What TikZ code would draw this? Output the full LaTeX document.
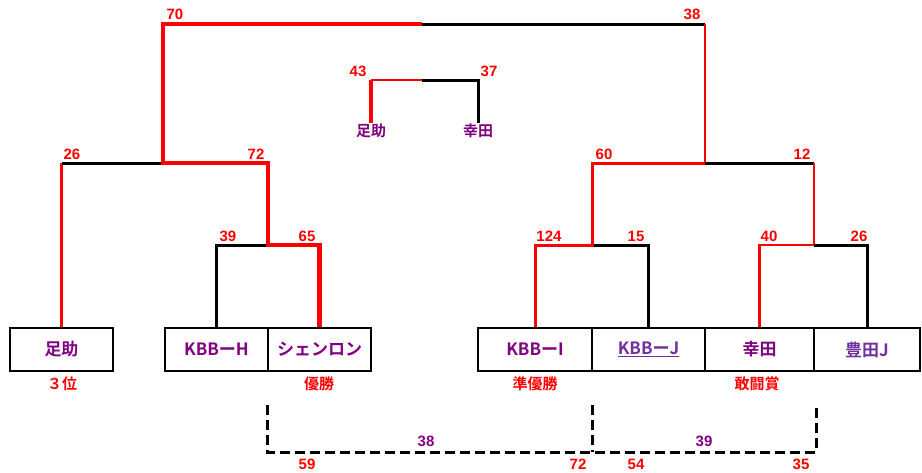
\documentclass[tikz,border=0pt]{standalone}
\usepackage{fontspec}
\setmainfont{Liberation Sans}
\newfontfamily\jp{Noto Sans CJK JP}[BoldFont={Noto Sans CJK JP Bold}]
\definecolor{tpurple}{HTML}{800080}
\definecolor{lpurple}{HTML}{7030A0}
\tikzset{
  team/.style={draw, line width=2pt, minimum height=43, inner sep=0pt, text=tpurple, font=\jp\bfseries\fontsize{17}{17}\selectfont},
  playoff/.style={text=tpurple, inner sep=1pt, font=\jp\bfseries\fontsize{15}{15}\selectfont},
  score/.style={text=red, font=\bfseries\fontsize{15}{15}\selectfont},
  prize/.style={text=red, font=\jp\bfseries\fontsize{15}{15}\selectfont},
  win/.style={red, line width=4.5pt},
  runner/.style={red, line width=3pt},
  adv/.style={red, line width=2.2pt},
  lose/.style={black, line width=3pt},
  pair/.style={black, line width=3pt, dash pattern=on 10pt off 5pt}
}
\begin{document}
\begin{tikzpicture}[x=1pt, y=-1pt]
    \useasboundingbox (0,0) rectangle (922,472);

    % Teams in boxes
    \node[team, minimum width=103] (ashi) at (61.5,349.5) {足助};
    \node[team, minimum width=103] (kbbh) at (216.5,349.5) {KBBーH};
    \node[team, minimum width=103] (shen) at (319.5,349.5) {シェンロン};
    \node[team, minimum width=114] (kbbi) at (535,349.5) {KBBーI};
    \node[team, minimum width=113, text=lpurple] (kbbj) at (648.5,349.5) {\underline{KBBーJ}};
    \node[team, minimum width=109] (koda) at (759.5,349.5) {幸田};
    \node[team, minimum width=106, text=lpurple] (toyo) at (867,349.5) {豊田J};

    % Prizes
    \node[prize] at (62,384) {３位};
    \node[prize] at (319,384) {優勝};
    \node[prize] at (535,384) {準優勝};
    \node[prize] at (757,384) {敢闘賞};

    % Junctions of the bracket
    \coordinate (m1) at (268,245);
    \coordinate (m2) at (592,245);
    \coordinate (m3) at (814,245);
    \coordinate (s1) at (163,163);
    \coordinate (s2) at (705,163);
    \coordinate (top) at (422,24);

    % Left half
    \draw[lose] (kbbh.north) |- (m1);
    \draw[adv] (ashi.north) -- (ashi.north |- s1);
    \draw[lose] (ashi.north |- s1) -- (s1);
    \draw[win] (shen.north) |- (m1) |- (s1) |- (top);

    % Right half
    \draw[lose] (top) -- (top -| s2);
    \draw[adv] (top -| s2) -- (s2);
    \draw[lose] (kbbj.north) |- (m2);
    \draw[runner] (kbbi.north) |- (m2) |- (s2);
    \draw[lose] (s2) -- (s2 -| m3);
    \draw[adv] (s2 -| m3) -- (m3);
    \draw[adv] (koda.north) |- (m3);
    \draw[lose] (toyo.north) |- (m3);

    % Scores
    \node[score] at (175,14) {70};
    \node[score] at (692,14) {38};
    \node[score] at (72,154) {26};
    \node[score] at (256,154) {72};
    \node[score] at (228,236) {39};
    \node[score] at (307,236) {65};
    \node[score] at (604,154) {60};
    \node[score] at (802,154) {12};
    \node[score] at (549,236) {124};
    \node[score] at (636,236) {15};
    \node[score] at (769,236) {40};
    \node[score] at (859,236) {26};

    % Third place game
    \coordinate (third) at (422,80);
    \node[playoff] (ashi3) at (371,131) {足助};
    \node[playoff] (koda3) at (478,131) {幸田};
    \draw[win] (ashi3.north) -- (ashi3.north |- third);
    \draw[adv] (ashi3.north |- third) -- (third);
    \draw[lose] (third) -| (koda3.north);
    \node[score] at (358,71) {43};
    \node[score] at (489,71) {37};

    % Extra games
    \coordinate (d1) at (267,405);
    \coordinate (d2) at (592,405);
    \coordinate (d3) at (816,405);
    \coordinate (b1) at (267,452);
    \coordinate (b3) at (816,452);
    \draw[pair] (d1) -- (b1) -- (b3) -- (d3);
    \draw[pair] (d2) -- (d2 |- b1);
    \node[score, text=tpurple] at (426,441) {38};
    \node[score, text=tpurple] at (704,441) {39};
    \node[score] at (307,464) {59};
    \node[score] at (578,464) {72};
    \node[score] at (636,464) {54};
    \node[score] at (801,464) {35};
\end{tikzpicture}
\end{document}
